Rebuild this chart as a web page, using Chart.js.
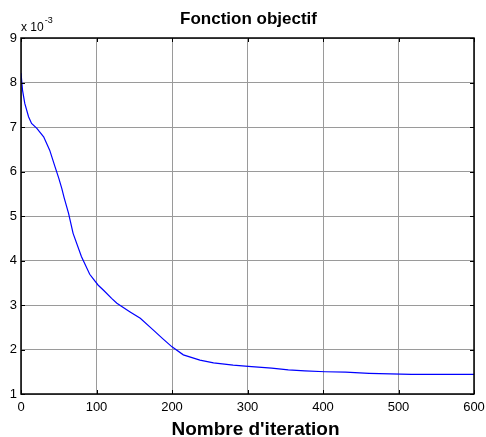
<!DOCTYPE html>
<html>
<head>
<meta charset="utf-8">
<script src="https://cdn.jsdelivr.net/npm/chart.js@4.4.1/dist/chart.umd.min.js"></script>
<style>
  html, body { margin: 0; padding: 0; background: #fff; }
  #wrap { position: relative; width: 486px; height: 437px; }
  canvas { display: block; }
</style>
</head>
<body>
<div id="wrap"><canvas id="c" width="486" height="437"></canvas></div>
<script>
// Data (values in units of 1e-3)
const iterations = [0, 2, 5, 10, 14, 21, 30, 38, 45, 50, 54, 57, 63, 69, 80, 91, 102, 110, 120, 127, 144, 158, 175, 188, 200, 215, 237, 255, 281, 301, 332, 354, 376, 403, 430, 461, 517, 600];
const objective  = [8.21, 7.83, 7.53, 7.23, 7.08, 6.97, 6.78, 6.48, 6.11, 5.85, 5.62, 5.42, 5.06, 4.61, 4.09, 3.69, 3.45, 3.32, 3.15, 3.04, 2.85, 2.70, 2.44, 2.24, 2.06, 1.88, 1.76, 1.70, 1.65, 1.62, 1.58, 1.54, 1.52, 1.50, 1.49, 1.465, 1.44, 1.44];
const xTicks = [0, 100, 200, 300, 400, 500, 600];
const yTicks = [1, 2, 3, 4, 5, 6, 7, 8, 9];
const titleText = "Fonction objectif";
const xLabelText = "Nombre d'iteration";
const expBase = "x 10";
const expPower = "-3";

const FONT = "Arial, 'Liberation Sans', Helvetica, sans-serif";

const points = iterations.map((x, i) => ({ x: x, y: objective[i] }));

const decor = {
  id: 'decor',
  afterDraw(chart) {
    const { ctx, chartArea: a } = chart;
    ctx.save();
    // box
    ctx.strokeStyle = '#000';
    ctx.lineWidth = 1.5;
    ctx.strokeRect(a.left, a.top, a.right - a.left, a.bottom - a.top);
    // inner tick marks on all four sides
    ctx.lineWidth = 1;
    const xs = chart.scales.x, ys = chart.scales.y;
    const tl = 4;
    xTicks.forEach(v => {
      const px = Math.round(xs.getPixelForValue(v)) + 0.5;
      ctx.beginPath();
      ctx.moveTo(px, a.bottom); ctx.lineTo(px, a.bottom - tl);
      ctx.moveTo(px, a.top); ctx.lineTo(px, a.top + tl);
      ctx.stroke();
    });
    yTicks.forEach(v => {
      const py = Math.round(ys.getPixelForValue(v)) + 0.5;
      ctx.beginPath();
      ctx.moveTo(a.left, py); ctx.lineTo(a.left + tl, py);
      ctx.moveTo(a.right, py); ctx.lineTo(a.right - tl, py);
      ctx.stroke();
    });
    // texts
    ctx.fillStyle = '#000';
    ctx.textAlign = 'center';
    ctx.textBaseline = 'alphabetic';
    ctx.font = 'bold 17px ' + FONT;
    ctx.fillText(titleText, (a.left + a.right) / 2 + 1, 24);
    ctx.font = 'bold 19px ' + FONT;
    ctx.fillText(xLabelText, (a.left + a.right) / 2 + 8, 435);
    ctx.textAlign = 'left';
    ctx.font = '12px ' + FONT;
    ctx.fillText(expBase, a.left, 31);
    const w = ctx.measureText(expBase).width;
    ctx.font = '9px ' + FONT;
    ctx.fillText(expPower, a.left + w + 1, 23);
    ctx.restore();
  }
};

new Chart(document.getElementById('c'), {
  type: 'line',
  data: {
    datasets: [{
      data: points,
      borderColor: '#0000ff',
      borderWidth: 1.2,
      pointRadius: 0,
      tension: 0,
      fill: false
    }]
  },
  options: {
    responsive: false,
    animation: false,
    devicePixelRatio: 1,
    layout: { padding: { top: 38, right: 12, left: 0, bottom: 0 } },
    plugins: { legend: { display: false }, tooltip: { enabled: false }, title: { display: false } },
    scales: {
      x: {
        type: 'linear',
        min: 0, max: 600,
        afterFit(s) { s.height = 43; s.paddingLeft = 0; s.paddingRight = 0; },
        afterBuildTicks(s) { s.ticks = xTicks.map(v => ({ value: v })); },
        border: { display: false },
        grid: { color: '#9a9a9a', lineWidth: 1, drawTicks: false },
        ticks: { color: '#000', font: { family: FONT, size: 13 }, padding: 6, maxRotation: 0 }
      },
      y: {
        type: 'linear',
        min: 1, max: 9,
        afterFit(s) { s.width = 21; s.paddingTop = 0; s.paddingBottom = 0; },
        afterBuildTicks(s) { s.ticks = yTicks.map(v => ({ value: v })); },
        border: { display: false },
        grid: { color: '#9a9a9a', lineWidth: 1, drawTicks: false },
        ticks: { color: '#000', font: { family: FONT, size: 13 }, padding: 4 }
      }
    }
  },
  plugins: [decor]
});
</script>
</body>
</html>
